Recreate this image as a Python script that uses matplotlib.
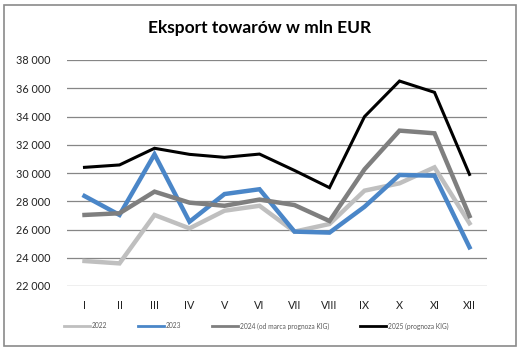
import matplotlib
matplotlib.use('Agg')
import matplotlib.pyplot as plt
from matplotlib.patches import Rectangle
from matplotlib.ticker import FuncFormatter

months = ['I', 'II', 'III', 'IV', 'V', 'VI', 'VII', 'VIII', 'IX', 'X', 'XI', 'XII']
exp_2022 = [23770, 23600, 27030, 26080, 27330, 27680, 25850, 26390, 28750, 29270, 30400, 26440]
exp_2023 = [28370, 27030, 31320, 26550, 28510, 28850, 25850, 25780, 27610, 29860, 29810, 24740]
exp_2024 = [27030, 27150, 28680, 27900, 27680, 28120, 27730, 26600, 30260, 33000, 32810, 26950]
exp_2025 = [30400, 30570, 31750, 31320, 31110, 31340, 30180, 28960, 33990, 36510, 35710, 29900]
labels = ['2022', '2023', '2024 (od marca prognoza KIG)', '2025 (prognoza KIG)']

plt.rcParams['font.family'] = ['Lato', 'DejaVu Sans']

fig = plt.figure(figsize=(5.2, 3.49), dpi=100)
ax = fig.add_axes([67 / 520, 1 - 286 / 349, 420 / 520, 226 / 349])

x = range(len(months))
series = [
    (exp_2022, '#bfbfbf', 3.2),
    (exp_2023, '#4a86c8', 3.2),
    (exp_2024, '#7f7f7f', 3.2),
    (exp_2025, '#000000', 2.2),
]
for (vals, col, lw), lab in zip(series, labels):
    ax.plot(x, vals, color=col, lw=lw, label=lab, solid_joinstyle='miter')

ax.set_xlim(-0.5, 11.5)
ax.set_ylim(22000, 38000)
ax.set_yticks(range(22000, 38001, 2000))
ax.yaxis.set_major_formatter(FuncFormatter(lambda v, p: f'{int(v):,}'.replace(',', ' ')))
ax.set_xticks(list(x))
ax.set_xticklabels(months)
ax.grid(axis='y', color='#868686', lw=0.9)
ax.set_axisbelow(True)
for s in ax.spines.values():
    s.set_visible(False)
ax.tick_params(length=0, labelsize=7.8, colors='#222222')
ax.tick_params(axis='x', pad=10)
ax.tick_params(axis='y', pad=12)

fig.text(0.5, 1 - 28 / 349, 'Eksport towarów w mln EUR', ha='center', va='center',
         fontsize=12.5, fontweight='bold')

leg = fig.legend(loc='center', bbox_to_anchor=(256 / 520, 1 - 326 / 349), ncol=4,
                 frameon=False, fontsize=4.8, handlelength=3.9, handletextpad=0.3,
                 columnspacing=4.6)
for line in leg.get_lines():
    line.set_linewidth(2)
for t in leg.get_texts():
    t.set_color('#595959')

fig.patches.append(Rectangle((4 / 520, 1 - 346 / 349), 512 / 520, 341 / 349,
                             transform=fig.transFigure, fill=False,
                             edgecolor='#8a8a8a', lw=1.2))

fig.savefig('out.png', dpi=100)
